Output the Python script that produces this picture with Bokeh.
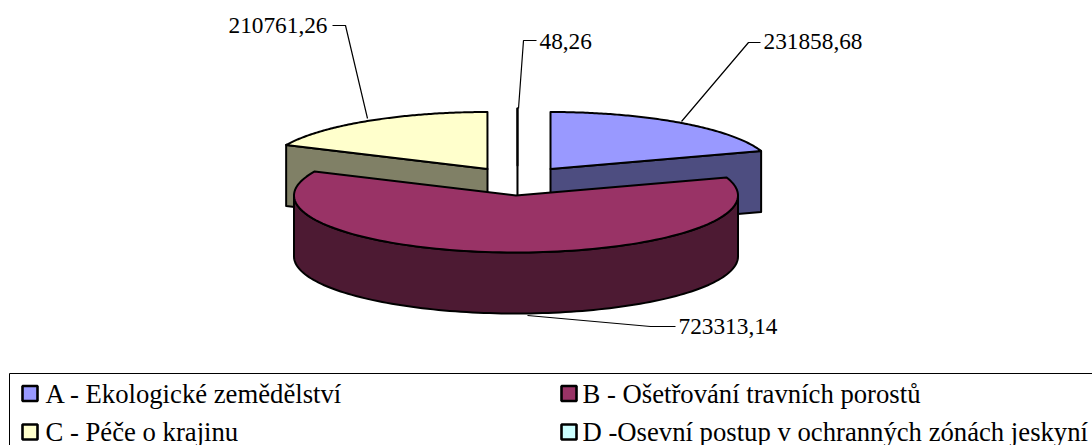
import numpy as np
from bokeh.plotting import figure
from bokeh.embed import file_html
from bokeh.resources import INLINE
from bokeh.core.properties import value

categories = ["A - Ekologické zemědělství", "B - Ošetřování travních porostů",
              "C - Péče o krajinu", "D -Osevní postup v ochranných zónách jeskyní"]
values = [231858.68, 723313.14, 210761.26, 48.26]
value_labels = ["231858,68", "723313,14", "210761,26", "48,26"]
top_colors = ["#9999FF", "#993366", "#FFFFCC", "#CCFFFF"]
side_colors = ["#4D4D80", "#4D1A33", "#808066", "#668080"]

W, H = 1092, 445
RX, RY, DEPTH = 222, 57, 61
centers = [(550, 168.5), (515.5, 195), (487, 168.5), (517, 165)]
FONT = "Liberation Serif"

p = figure(width=W, height=H, x_range=(0, W), y_range=(H, 0),
           output_backend="svg", toolbar_location=None, min_border=0,
           outline_line_color=None)
p.axis.visible = False
p.grid.visible = False
p.background_fill_color = "white"

total = sum(values)
cum = np.cumsum([0] + values) / total * 2 * np.pi
EDGE = dict(line_color="black", line_width=2.0, line_join="round")

def rim(i, a0, a1, dy=0.0, n=120):
    t = np.linspace(a0, a1, n)
    cx, cy = centers[i]
    return cx + RX * np.sin(t), cy - RY * np.cos(t) + dy

def wall(i):
    a0, a1 = cum[i], cum[i + 1]
    cx, cy = centers[i]
    if i == 1:  # front rim of the large slice
        lo, hi = max(a0, np.pi / 2), min(a1, 3 * np.pi / 2)
        x, y = rim(i, lo, hi)
        xb, yb = rim(i, hi, lo, DEPTH)
        p.patch(np.r_[x, xb], np.r_[y, yb], fill_color=side_colors[i], **EDGE)
    else:  # radial cut face towards the viewer
        a = a1 if i == 0 else a0
        ex, ey = rim(i, a, a, 0, 1)
        p.patch([cx, ex[0], ex[0], cx], [cy, ey[0], ey[0] + DEPTH, cy + DEPTH],
                fill_color=side_colors[i], **EDGE)

def top(i):
    x, y = rim(i, cum[i], cum[i + 1])
    cx, cy = centers[i]
    p.patch(np.r_[cx, x], np.r_[cy, y], fill_color=top_colors[i], **EDGE)

# leader lines
leaders = [([681, 748, 760], [121, 42, 42]), ([527, 650, 675], [315, 326, 326]),
           ([367, 345, 332], [118, 25, 25]), ([518, 523, 536], [108, 40, 40])]
for lx, ly in leaders:
    p.line(lx, ly, line_color="black", line_width=1.2)

wall(0); wall(2); wall(3)
top(3); top(0); top(2)
wall(1); top(1)

# value labels
lab_x = [763, 678, 228, 539]
lab_y = [41, 326, 25, 41]
p.text(lab_x, lab_y, text=value_labels, text_font=value(FONT), text_font_size="23.3px",
       text_baseline="middle", text_align="left", text_color="black")

# legend frame (runs off the page)
p.quad(left=[9], right=[W + 50], top=[373], bottom=[H + 50],
       fill_color=None, line_color="black", line_width=1)
sw_x = [29.5, 568.5, 29.5, 568.5]
sw_y = [393, 393, 431.5, 431.5]
p.rect(sw_x, sw_y, width=15, height=15, fill_color=top_colors,
       line_color="black", line_width=2.6)
tx_x = [45, 582, 45, 582]
p.text(tx_x, [393, 393, 431, 431], text=categories,
       text_font=value(FONT), text_font_size="26.7px", text_baseline="middle",
       text_align="left", text_color="black")

open("out.html", "w").write(file_html(p, INLINE))
